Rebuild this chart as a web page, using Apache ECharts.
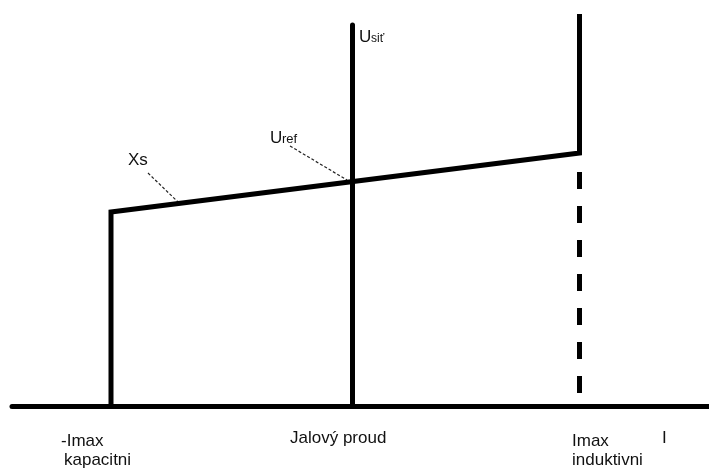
<!DOCTYPE html>
<html>
<head>
<meta charset="utf-8">
<script src="https://cdn.jsdelivr.net/npm/echarts@6/dist/echarts.min.js"></script>
<style>
html, body { margin: 0; padding: 0; background: #fff; }
#chart-area { width: 709px; height: 469px; }
</style>
</head>
<body>
<div id="chart-area"></div>
<script>
// V-A charakteristika (jednotky ~ px od pocatku)
var axisI = [-340.5, 356.5];          // rozsah osy proudu
var axisU = [0, 381.5];               // rozsah osy napeti
var curveI = [-241.5, -241.5, 227, 227];   // -Imax .. Imax
var curveU = [0, 194.5, 253.5, 392.5];
var dashI = [227, 227];               // Imax induktivni (carkovane)
var dashU = [253.5, 0];

var chart;

function pairs(xs, ys){
    var out = [];
    for(var i=0; i<xs.length; i++){
        out.push([xs[i], ys[i]]);
    }
    return out;
}

function txt(text, x, y, size){
    return {
        type: 'text',
        style: {
            text: text, x: x, y: y,
            font: size + 'px "Liberation Sans", Arial, sans-serif',
            fill: '#111',
            textVerticalAlign: 'bottom'
        }
    };
}

function leader(x1, y1, x2, y2){
    return {
        type: 'line',
        shape: {x1: x1, y1: y1, x2: x2, y2: y2},
        style: {stroke: '#222', lineWidth: 1.2, lineDash: [3, 2]}
    };
}

var option = {
    animation: false,
    backgroundColor: '#fff',
    grid: { left: 12, right: 0, top: 25, bottom: 62.5 },
    xAxis: {
        type: 'value', min: axisI[0], max: axisI[1],
        axisLine: { show: true, onZero: true, lineStyle: { color: '#000', width: 5 } },
        axisTick: { show: false }, axisLabel: { show: false }, splitLine: { show: false }
    },
    yAxis: {
        type: 'value', min: axisU[0], max: axisU[1],
        axisLine: { show: true, onZero: true, lineStyle: { color: '#000', width: 5 } },
        axisTick: { show: false }, axisLabel: { show: false }, splitLine: { show: false }
    },
    series: [
        {
            type: 'line', data: pairs(curveI, curveU), symbol: 'none', clip: false,
            lineStyle: { color: '#000', width: 5, join: 'miter' }
        },
        {
            type: 'line', data: pairs(dashI, dashU), symbol: 'none', clip: false,
            lineStyle: { color: '#000', width: 5, type: [17, 17], dashOffset: 15 }
        }
    ],
    graphic: [
        txt('U', 359, 46, 17), txt('siť', 371, 45, 12),
        txt('U', 270, 147, 17), txt('ref', 282, 146, 13),
        txt('Xs', 128, 169, 17),
        leader(148, 173, 178, 202),
        leader(290, 146, 347, 180),
        txt('-Imax', 61, 450, 17), txt('kapacitni', 64, 469, 17),
        txt('Jalový proud', 290, 447, 17),
        txt('Imax', 572, 450, 17), txt('induktivni', 572, 469, 17),
        txt('I', 662, 447, 17)
    ]
};

chart = echarts.init(document.getElementById('chart-area'));
chart.setOption(option);
</script>
</body>
</html>
